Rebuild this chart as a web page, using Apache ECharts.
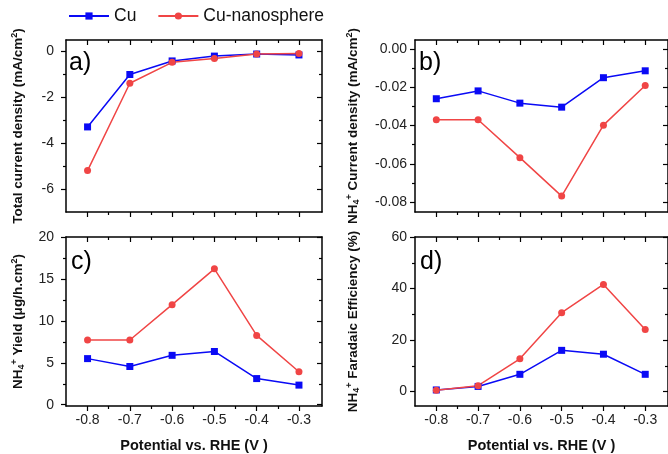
<!DOCTYPE html>
<html>
<head>
<meta charset="utf-8">
<script src="https://cdn.jsdelivr.net/npm/echarts@6/dist/echarts.min.js"></script>
<style>
  html, body { margin: 0; padding: 0; background: #fff; }
  #chart { width: 668px; height: 454px; }
</style>
</head>
<body>
<div id="chart"></div>
<script>
// potential vs. RHE (V)
const potential = [-0.8, -0.7, -0.6, -0.5, -0.4, -0.3]
const xTicks = [-0.8, -0.7, -0.6, -0.5, -0.4, -0.3]
const xMinor = [-0.75, -0.65, -0.55, -0.45, -0.35]

// a) total current density (mA/cm2)
const cuTotal = [-3.3, -1.02, -0.43, -0.22, -0.13, -0.17]
const nanoTotal = [-5.2, -1.4, -0.49, -0.32, -0.13, -0.11]
const aTicks = [0, -2, -4, -6]
const aMinor = [-1, -3, -5]

// b) NH4+ current density (mA/cm2)
const cuNh4Current = [-0.026, -0.0219, -0.0283, -0.0304, -0.015, -0.0114]
const nanoNh4Current = [-0.037, -0.037, -0.0568, -0.0769, -0.0398, -0.0191]
const bTicks = [0, -0.02, -0.04, -0.06, -0.08]
const bMinor = [-0.01, -0.03, -0.05, -0.07]

// c) NH4+ yield (ug/h.cm2)
const cuYield = [5.5, 4.56, 5.89, 6.35, 3.12, 2.34]
const nanoYield = [7.72, 7.72, 11.93, 16.2, 8.27, 3.94]
const cTicks = [0, 5, 10, 15, 20]
const cMinor = [2.5, 7.5, 12.5, 17.5]

// d) NH4+ faradaic efficiency (%)
const cuFe = [0.63, 2.0, 6.7, 16.0, 14.5, 6.7]
const nanoFe = [0.5, 2.3, 12.7, 30.6, 41.6, 24.1]
const dTicks = [0, 20, 40, 60]
const dMinor = [10, 30, 50]

const BLUE = '#0a0af5'
const RED = '#f04545'
const FONT = 'Liberation Sans, Arial, sans-serif'

const nameRich = {
  b: { fontSize: 13.5, fontWeight: 'bold', color: '#111', fontFamily: FONT, lineHeight: 16, verticalAlign: 'middle' },
  sub: { fontSize: 9, fontWeight: 'bold', color: '#111', fontFamily: FONT, lineHeight: 16, verticalAlign: 'bottom' },
  sup: { fontSize: 9, fontWeight: 'bold', color: '#111', fontFamily: FONT, lineHeight: 16, verticalAlign: 'top' }
}

const panels = [
  { grid: { left: 66, top: 40, width: 256, height: 172 }, yMin: -7, yMax: 0.48, yTicks: aTicks, yMinor: aMinor,
    fmt: v => String(v), name: '{b|Total current density (mA/cm}{sup|2}{b|)}', xLabels: false,
    cu: cuTotal, nano: nanoTotal, tag: 'a)', tagX: 69, tagY: 63 },
  { grid: { left: 415, top: 40, width: 255, height: 172 }, yMin: -0.0852, yMax: 0.0047, yTicks: bTicks, yMinor: bMinor,
    fmt: v => v.toFixed(2), name: '{b|NH}{sub|4}{sup|+}{b| Current density (mA/cm}{sup|2}{b|)}', xLabels: false,
    cu: cuNh4Current, nano: nanoNh4Current, tag: 'b)', tagX: 419, tagY: 63 },
  { grid: { left: 66, top: 237, width: 256, height: 172 }, yMin: -0.15, yMax: 20, yTicks: cTicks, yMinor: cMinor,
    fmt: v => String(v), name: '{b|NH}{sub|4}{sup|+}{b| Yield (μg/h.cm}{sup|2}{b|)}', xLabels: true,
    cu: cuYield, nano: nanoYield, tag: 'c)', tagX: 71, tagY: 262 },
  { grid: { left: 415, top: 237, width: 255, height: 172 }, yMin: -5.6, yMax: 60, yTicks: dTicks, yMinor: dMinor,
    fmt: v => String(v), name: '{b|NH}{sub|4}{sup|+}{b| Faradaic Efficiency (%)}', xLabels: true,
    cu: cuFe, nano: nanoFe, tag: 'd)', tagX: 420, tagY: 262 }
]

const axisLine = { show: true, onZero: false, lineStyle: { color: '#000', width: 1.5 } }
const noLine = { show: false, onZero: false }
const tickStyle = { color: '#000', width: 1.2 }
const tickLabel = { color: '#222', fontSize: 14, fontFamily: FONT }

const grids = []
const xAxes = []
const yAxes = []
const series = []
const graphics = []

panels.forEach((p, i) => {
  grids.push(p.grid)
  const xBase = { type: 'value', gridIndex: i, min: -0.851, max: -0.2455, splitLine: { show: false } }
  xAxes.push(Object.assign({}, xBase, {
    position: 'bottom', axisLine: axisLine,
    axisTick: { customValues: xTicks, length: 5, lineStyle: tickStyle },
    axisLabel: Object.assign({ show: p.xLabels, customValues: xTicks, margin: 7, formatter: v => v.toFixed(1) }, tickLabel),
    name: p.xLabels ? 'Potential vs. RHE (V )' : '', nameLocation: 'middle', nameGap: 32,
    nameTextStyle: { fontSize: 14.5, fontWeight: 'bold', color: '#111', fontFamily: FONT }
  }))
  xAxes.push(Object.assign({}, xBase, {
    position: 'bottom', axisLine: noLine,
    axisTick: { customValues: xMinor, length: 3, lineStyle: tickStyle }, axisLabel: { show: false }
  }))
  xAxes.push(Object.assign({}, xBase, {
    position: 'top', axisLine: axisLine,
    axisTick: { customValues: xTicks, length: 5, inside: true, lineStyle: tickStyle }, axisLabel: { show: false }
  }))
  xAxes.push(Object.assign({}, xBase, {
    position: 'top', axisLine: noLine,
    axisTick: { customValues: xMinor, length: 3, inside: true, lineStyle: tickStyle }, axisLabel: { show: false }
  }))

  const yBase = { type: 'value', gridIndex: i, min: p.yMin, max: p.yMax, splitLine: { show: false } }
  yAxes.push(Object.assign({}, yBase, {
    position: 'left', axisLine: axisLine,
    axisTick: { customValues: p.yTicks, length: 5, lineStyle: tickStyle },
    axisLabel: Object.assign({ customValues: p.yTicks, margin: i % 2 === 0 ? 12 : 8, formatter: p.fmt }, tickLabel),
    name: p.name, nameLocation: 'middle', nameGap: i % 2 === 0 ? 40 : 54,
    nameTextStyle: { rich: nameRich }
  }))
  yAxes.push(Object.assign({}, yBase, {
    position: 'left', axisLine: noLine,
    axisTick: { customValues: p.yMinor, length: 3, lineStyle: tickStyle }, axisLabel: { show: false }
  }))
  yAxes.push(Object.assign({}, yBase, {
    position: 'right', axisLine: axisLine,
    axisTick: { customValues: p.yTicks, length: 5, inside: true, lineStyle: tickStyle }, axisLabel: { show: false }
  }))
  yAxes.push(Object.assign({}, yBase, {
    position: 'right', axisLine: noLine,
    axisTick: { customValues: p.yMinor, length: 3, inside: true, lineStyle: tickStyle }, axisLabel: { show: false }
  }))

  series.push({
    name: 'Cu', type: 'line', xAxisIndex: i * 4, yAxisIndex: i * 4,
    data: potential.map((x, k) => [x, p.cu[k]]),
    symbol: 'rect', symbolSize: 7, color: BLUE,
    lineStyle: { width: 1.5, color: BLUE }, itemStyle: { color: BLUE }
  })
  series.push({
    name: 'Cu-nanosphere', type: 'line', xAxisIndex: i * 4, yAxisIndex: i * 4,
    data: potential.map((x, k) => [x, p.nano[k]]),
    symbol: 'circle', symbolSize: 7, color: RED,
    lineStyle: { width: 1.5, color: RED }, itemStyle: { color: RED }
  })

  graphics.push({
    type: 'text', x: p.tagX, y: p.tagY,
    style: { text: p.tag, fontSize: 25, fontFamily: FONT, fill: '#000', verticalAlign: 'middle' }
  })
})

const chart = echarts.init(document.getElementById('chart'), null, { renderer: 'canvas' })
chart.setOption({
  animation: false,
  backgroundColor: '#fff',
  textStyle: { fontFamily: FONT },
  legend: {
    left: 68, top: 7, padding: 0,
    itemWidth: 40, itemHeight: 9, itemGap: 21,
    textStyle: { fontSize: 17.5, color: '#111', fontFamily: FONT },
    data: ['Cu', 'Cu-nanosphere']
  },
  grid: grids,
  xAxis: xAxes,
  yAxis: yAxes,
  series: series,
  graphic: graphics
})
</script>
</body>
</html>
